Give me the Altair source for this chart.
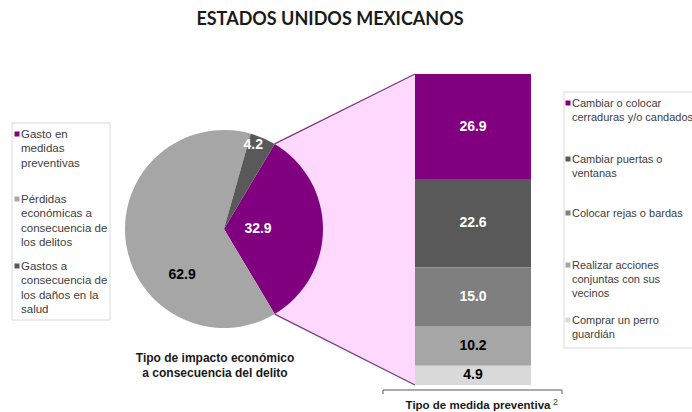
import math
import altair as alt
import pandas as pd

W, H = 692, 412
FONT = "Liberation Sans"

# ---------------- data ----------------
title_text = "ESTADOS UNIDOS MEXICANOS"
pie_categories = [
    "Gasto en medidas preventivas",
    "Pérdidas económicas a consecuencia de los delitos",
    "Gastos a consecuencia de los daños en la salud",
]
pie_values = [32.9, 62.9, 4.2]
pie_legend_text = [
    "Gasto en\nmedidas\npreventivas",
    "Pérdidas\neconómicas a\nconsecuencia de\nlos delitos",
    "Gastos a\nconsecuencia de\nlos daños en la\nsalud",
]
bar_categories = [
    "Cambiar o colocar cerraduras y/o candados",
    "Cambiar puertas o ventanas",
    "Colocar rejas o bardas",
    "Realizar acciones conjuntas con sus vecinos",
    "Comprar un perro guardián",
]
bar_values = [26.9, 22.6, 15.0, 10.2, 4.9]
bar_legend_text = [
    "Cambiar o colocar\ncerraduras y/o candados",
    "Cambiar puertas o\nventanas",
    "Colocar rejas o bardas",
    "Realizar acciones\nconjuntas con sus\nvecinos",
    "Comprar un perro\nguardián",
]
pie_caption = "Tipo de impacto económico\na consecuencia del delito"
bar_caption = "Tipo de medida preventiva"
bar_caption_sup = "2"

# ---------------- styles ----------------
pie_colors = ["#800080", "#a6a6a6", "#595959"]
bar_colors = ["#800080", "#595959", "#7f7f7f", "#a6a6a6", "#d9d9d9"]
pie_label_colors = ["white", "black", "white"]
bar_label_colors = ["white", "white", "white", "black", "black"]
PINK = "#fed8fe"
CONN = "#7a3d7a"
LEG_TXT = "#404040"

# ---------------- layout ----------------
CX, CY, R = 224, 229, 99
BAR_X0, BAR_X1, BAR_TOP, BAR_BOTTOM = 415, 531, 74, 385
pie_label_radius = [34, 62, 89]
pie_label_turn_deg = [0, -40, -4]
left_leg_y = [134, 199, 266]
right_leg_y = [103, 159, 213, 265, 320]

pie_total = sum(pie_values)
bar_total = sum(bar_values)
start = math.pi / 2 - math.pi * pie_values[0] / pie_total
theta_scale = alt.Scale(domain=[0, pie_total], range=[start, start + 2 * math.pi])
pie_color_scale = alt.Scale(domain=pie_categories, range=pie_colors)
bar_color_scale = alt.Scale(domain=bar_categories, range=bar_colors)
bar_y_scale = alt.Scale(domain=[0, bar_total], range=[BAR_BOTTOM, BAR_TOP], nice=False, zero=False)

one = pd.DataFrame({"k": [0]})

# ---------------- connector (pink trapezoid) ----------------
a0 = start
a1 = start + 2 * math.pi * pie_values[0] / pie_total
p0 = (CX + R * math.sin(a0), CY - R * math.cos(a0))
p1 = (CX + R * math.sin(a1), CY - R * math.cos(a1))
conn_df = pd.DataFrame({"x": [min(p0[0], p1[0]), BAR_X0], "y": [p0[1], BAR_TOP], "y2": [p1[1], BAR_BOTTOM]})
conn_area = alt.Chart(conn_df).mark_area(color=PINK, opacity=1).encode(
    x=alt.X("x:Q", scale=None, axis=None),
    y=alt.Y("y:Q", scale=None, axis=None),
    y2="y2:Q",
)
line_df = pd.DataFrame({"x": [p0[0], p1[0]], "y": [p0[1], p1[1]], "x2": [BAR_X0, BAR_X0], "y2": [BAR_TOP, BAR_BOTTOM]})
conn_lines = alt.Chart(line_df).mark_rule(color=CONN, strokeWidth=1.3).encode(
    x=alt.X("x:Q", scale=None, axis=None),
    y=alt.Y("y:Q", scale=None, axis=None),
    x2="x2:Q",
    y2="y2:Q",
)

# ---------------- pie ----------------
pie_df = pd.DataFrame({"cat": pie_categories, "val": pie_values, "ord": list(range(len(pie_values)))})
pie = alt.Chart(pie_df).mark_arc(outerRadius=R).encode(
    theta=alt.Theta("val:Q", stack=True, scale=theta_scale),
    color=alt.Color("cat:N", scale=pie_color_scale, legend=None),
    order=alt.Order("ord:Q"),
    x=alt.value(CX),
    y=alt.value(CY),
)

cum = 0.0
mids = []
for i, v in enumerate(pie_values):
    mids.append(cum + v / 2 + pie_label_turn_deg[i] / 360 * pie_total)
    cum += v
pie_lab_df = pd.DataFrame({
    "val": pie_values,
    "mid": mids,
    "r": pie_label_radius,
    "lc": pie_label_colors,
})
pie_labels = alt.Chart(pie_lab_df).mark_text(font=FONT, fontSize=14, fontWeight="bold").encode(
    theta=alt.Theta("mid:Q", stack=None, scale=theta_scale),
    radius=alt.Radius("r:Q", scale=None),
    text=alt.Text("val:Q", format=".1f"),
    color=alt.Color("lc:N", scale=None),
    x=alt.value(CX),
    y=alt.value(CY),
)

pie_cap = alt.Chart(pd.DataFrame({"t": [pie_caption]})).mark_text(
    font=FONT, fontSize=12, fontWeight="bold", color="#1a1a1a", align="center",
    baseline="alphabetic", lineBreak="\n", lineHeight=15,
).encode(text="t:N", x=alt.value(215), y=alt.value(362))

# ---------------- bar ----------------
bar_df = pd.DataFrame({
    "cat": bar_categories,
    "val": bar_values,
    "rank": list(range(len(bar_values))),
    "lc": bar_label_colors,
})
bar_base = alt.Chart(bar_df).transform_stack(
    stack="val", groupby=[], as_=["y0", "y1"], sort=[alt.SortField("rank", order="descending")]
).transform_calculate(mid="(datum.y0 + datum.y1) / 2")

bars = bar_base.mark_bar().encode(
    x=alt.value(BAR_X0),
    x2=alt.value(BAR_X1),
    y=alt.Y("y0:Q", scale=bar_y_scale, axis=None),
    y2="y1:Q",
    color=alt.Color("cat:N", scale=bar_color_scale, legend=None),
)
bar_labels = bar_base.mark_text(font=FONT, fontSize=14, fontWeight="bold").encode(
    x=alt.value((BAR_X0 + BAR_X1) / 2),
    y=alt.Y("mid:Q", scale=bar_y_scale, axis=None),
    text=alt.Text("val:Q", format=".1f"),
    color=alt.Color("lc:N", scale=None),
)

axis_line = alt.Chart(one).mark_rule(color="#595959", strokeWidth=1).encode(
    x=alt.value(383), x2=alt.value(562), y=alt.value(390)
)
axis_tick_l = alt.Chart(one).mark_rule(color="#595959", strokeWidth=1).encode(
    x=alt.value(383), y=alt.value(390), y2=alt.value(394)
)
axis_tick_r = alt.Chart(one).mark_rule(color="#595959", strokeWidth=1).encode(
    x=alt.value(562), y=alt.value(390), y2=alt.value(394)
)
bar_cap = alt.Chart(pd.DataFrame({"t": [bar_caption]})).mark_text(
    font=FONT, fontSize=11.5, fontWeight="bold", color="#1a1a1a", align="center", baseline="alphabetic"
).encode(text="t:N", x=alt.value(478), y=alt.value(409))
bar_cap_sup = alt.Chart(pd.DataFrame({"t": [bar_caption_sup]})).mark_text(
    font=FONT, fontSize=9, color=LEG_TXT, align="left", baseline="alphabetic"
).encode(text="t:N", x=alt.value(553), y=alt.value(405))

# ---------------- legends ----------------
left_box = alt.Chart(one).mark_rect(fill="white", stroke="#d9d9d9", strokeWidth=1).encode(
    x=alt.value(12), x2=alt.value(110), y=alt.value(123), y2=alt.value(320)
)
right_box = alt.Chart(one).mark_rect(fill="white", stroke="#d9d9d9", strokeWidth=1).encode(
    x=alt.value(564), x2=alt.value(700), y=alt.value(92), y2=alt.value(348)
)
left_leg_df = pd.DataFrame({"cat": pie_categories, "label": pie_legend_text, "y": left_leg_y})
left_sq = alt.Chart(left_leg_df).mark_square(size=25, opacity=1).encode(
    x=alt.value(17),
    y=alt.Y("y:Q", scale=None, axis=None),
    color=alt.Color("cat:N", scale=pie_color_scale, legend=None),
)
left_txt = alt.Chart(left_leg_df).mark_text(
    align="left", baseline="alphabetic", lineBreak="\n", lineHeight=14.3,
    font=FONT, fontSize=11.5, color=LEG_TXT, dy=4,
).encode(x=alt.value(21), y=alt.Y("y:Q", scale=None, axis=None), text="label:N")

right_leg_df = pd.DataFrame({"cat": bar_categories, "label": bar_legend_text, "y": right_leg_y})
right_sq = alt.Chart(right_leg_df).mark_square(size=25, opacity=1).encode(
    x=alt.value(568),
    y=alt.Y("y:Q", scale=None, axis=None),
    color=alt.Color("cat:N", scale=bar_color_scale, legend=None),
)
right_txt = alt.Chart(right_leg_df).mark_text(
    align="left", baseline="alphabetic", lineBreak="\n", lineHeight=13.8,
    font=FONT, fontSize=11, color=LEG_TXT, dy=4,
).encode(x=alt.value(572), y=alt.Y("y:Q", scale=None, axis=None), text="label:N")

# ---------------- title ----------------
title = alt.Chart(pd.DataFrame({"t": [title_text]})).mark_text(
    font="Lato", fontSize=18, fontWeight="bold", color="#1a1a1a", align="center", baseline="middle"
).encode(text="t:N", x=alt.value(330), y=alt.value(20))

chart = alt.layer(
    conn_area, conn_lines, pie, pie_labels, pie_cap,
    bars, bar_labels, axis_line, axis_tick_l, axis_tick_r, bar_cap, bar_cap_sup,
    left_box, left_sq, left_txt, right_box, right_sq, right_txt, title,
).resolve_scale(
    x="independent", y="independent", color="independent", theta="independent"
).properties(
    width=W, height=H, padding=0, autosize=alt.AutoSizeParams(type="none"), background="white"
).configure_view(stroke=None)

chart.save("out.html", embed_options={"renderer": "svg", "actions": False})
